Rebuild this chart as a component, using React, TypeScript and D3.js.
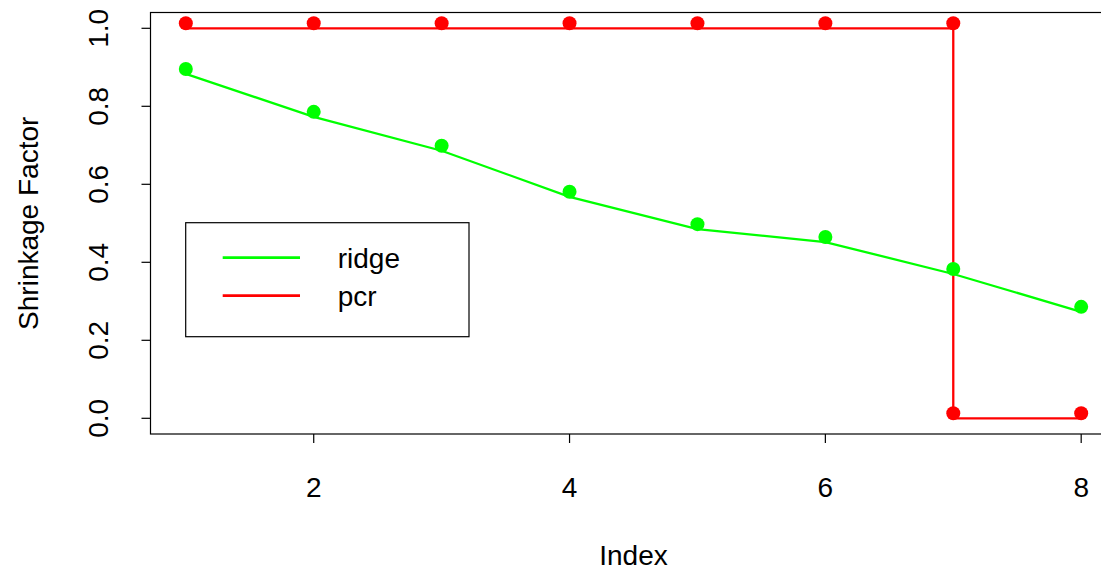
import React from "react";
import * as d3 from "d3";

const ridgeX = [1, 2, 3, 4, 5, 6, 7, 8];
const ridgeY = [0.883, 0.773, 0.686, 0.568, 0.485, 0.452, 0.370, 0.273];
const pcrX = [1, 2, 3, 4, 5, 6, 7, 7, 8];
const pcrY = [1, 1, 1, 1, 1, 1, 1, 0, 0];
const xTicks = [2, 4, 6, 8];
const yTicks = [0, 0.2, 0.4, 0.6, 0.8, 1.0];
const legendLabels = ["ridge", "pcr"];
const legendColors = ["#00ff00", "#ff0000"];

const W = 1101;
const H = 568;
const FONT = "'Liberation Sans', Arial, Helvetica, sans-serif";
const FS = 28;

export default function App() {
  const x = d3.scaleLinear().domain([0.72, 8.28]).range([150, 1117]);
  const y = d3.scaleLinear().domain([-0.04, 1.04]).range([433.9, 12.7]);
  const dotOffset = -5;
  const r = 7;

  const line = d3
    .line<[number, number]>()
    .x((d) => x(d[0]))
    .y((d) => y(d[1]));

  const ridgePts: [number, number][] = ridgeX.map((v, i) => [v, ridgeY[i]]);
  const pcrPts: [number, number][] = pcrX.map((v, i) => [v, pcrY[i]]);

  const legendLineY = [257.7, 295.7];

  return (
    <svg
      width={W}
      height={H}
      style={{ position: "fixed", left: 0, top: 0, background: "#fff" }}
      fontFamily={FONT}
    >
      <rect x={0} y={0} width={W} height={H} fill="#fff" />
      <rect
        x={150.5}
        y={12.5}
        width={966}
        height={421.5}
        fill="none"
        stroke="#000"
        strokeWidth={1.2}
      />
      {yTicks.map((t) => (
        <g key={"y" + t}>
          <line x1={141.5} x2={150.5} y1={y(t)} y2={y(t)} stroke="#000" strokeWidth={1.2} />
          <text
            transform={`translate(107.5,${y(t)}) rotate(-90)`}
            textAnchor="middle"
            fontSize={FS}
            fill="#000"
          >
            {t.toFixed(1)}
          </text>
        </g>
      ))}
      {xTicks.map((t) => (
        <g key={"x" + t}>
          <line x1={x(t)} x2={x(t)} y1={434} y2={443} stroke="#000" strokeWidth={1.2} />
          <text x={x(t)} y={497} textAnchor="middle" fontSize={FS} fill="#000">
            {t}
          </text>
        </g>
      ))}
      <text x={633.5} y={564.5} textAnchor="middle" fontSize={FS} fill="#000">
        Index
      </text>
      <text
        transform={`translate(38,223.3) rotate(-90)`}
        textAnchor="middle"
        fontSize={FS}
        fill="#000"
      >
        Shrinkage Factor
      </text>
      <path d={line(ridgePts) || ""} fill="none" stroke={legendColors[0]} strokeWidth={2.3} />
      <path d={line(pcrPts) || ""} fill="none" stroke={legendColors[1]} strokeWidth={2.3} />
      {ridgePts.map((p, i) => (
        <circle key={"rp" + i} cx={x(p[0])} cy={y(p[1]) + dotOffset} r={r} fill={legendColors[0]} />
      ))}
      {pcrPts.map((p, i) => (
        <circle key={"pp" + i} cx={x(p[0])} cy={y(p[1]) + dotOffset} r={r} fill={legendColors[1]} />
      ))}
      <rect x={185.7} y={222.7} width={283.3} height={114} fill="#fff" stroke="#000" strokeWidth={1.2} />
      {legendLabels.map((lab, i) => (
        <g key={lab}>
          <line
            x1={222.7}
            x2={300}
            y1={legendLineY[i]}
            y2={legendLineY[i]}
            stroke={legendColors[i]}
            strokeWidth={2.7}
          />
          <text x={337.7} y={legendLineY[i] + 10} fontSize={FS} fill="#000">
            {lab}
          </text>
        </g>
      ))}
    </svg>
  );
}
